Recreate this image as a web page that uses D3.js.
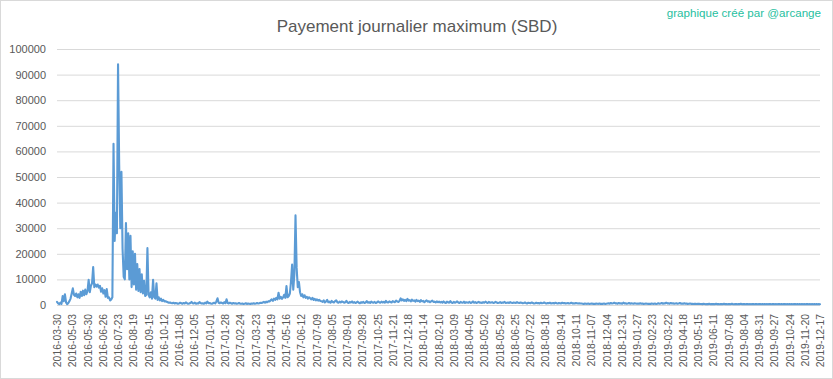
<!DOCTYPE html>
<html><head><meta charset="utf-8">
<script src="https://cdn.jsdelivr.net/npm/d3@7"></script>
<style>body{margin:0;background:#fff}svg{display:block}</style>
</head><body>
<script>
const title = "Payement journalier maximum (SBD)";
const credit = "graphique créé par @arcange";

// category labels (one every 27 categories)
const tickLabels = [
"2016-03-30","2016-05-03","2016-05-30","2016-06-26","2016-07-23","2016-08-19","2016-09-15","2016-10-12","2016-11-08","2016-12-05",
"2017-01-01","2017-01-28","2017-02-24","2017-03-23","2017-04-19","2017-05-16","2017-06-12","2017-07-09","2017-08-05","2017-09-01",
"2017-09-28","2017-10-25","2017-11-21","2017-12-18","2018-01-14","2018-02-10","2018-03-09","2018-04-05","2018-05-02","2018-05-29",
"2018-06-25","2018-07-22","2018-08-18","2018-09-14","2018-10-11","2018-11-07","2018-12-04","2018-12-31","2019-01-27","2019-02-23",
"2019-03-22","2019-04-18","2019-05-15","2019-06-11","2019-07-08","2019-08-04","2019-08-31","2019-09-27","2019-10-24","2019-11-20",
"2019-12-17"];
const labelEvery = 27;   // categories between two labels
const sampleStep = 2;    // one value read every 2 categories

const yTicks = [0,10000,20000,30000,40000,50000,60000,70000,80000,90000,100000];

// maximum daily payment (SBD), one value every 2 days
const maxPayment = [
// 2016 spring
1200,600,300,900,400,3500,1500,4200,
1000,300,800,1500,2500,4500,6500,4000,3500,
4500,3000,4200,2800,5200,3500,5600,3800,6000,4200,5500,9800,5000,7500,8500,14800,7000,8000,
7200,8000,6800,7500,5200,6500,4500,5800,3200,6200,2800,3000,1800,2200,3000,
// 2016 summer peak
63000,25000,36000,28000,94000,55000,30000,52000,22000,11000,10000,32000,14000,28000,10000,27000,7000,21000,8000,20000,
6000,16000,5500,14000,5000,12000,4500,9500,3500,4000,22200,4000,3000,5000,2500,9800,3000,2500,8500,2000,
3000,1800,2500,1500,2000,1400,1500,
// 2016 autumn - 2017 spring
1300,1100,900,1000,800,700,900,600,800,700,
500,600,900,700,500,800,600,1000,700,500,
600,800,1200,700,600,900,500,700,600,1100,
800,600,700,500,900,600,1300,700,800,600,
500,700,900,600,1400,2600,900,700,1000,800,
600,1100,700,2200,800,600,900,700,500,800,
600,700,500,600,800,500,
500,600,400,500,700,400,600,500,400,600,
500,700,500,600,800,600,700,900,800,1000,
1200,900,1300,1100,1500,1400,
// 2017 June peak
1800,2200,1600,2500,2000,2800,2200,4800,2500,3200,2400,3000,4000,2800,7400,3000,3500,4500,9000,15800,
6000,12000,35000,14500,7000,9000,5000,
3500,4200,3000,3800,2800,3200,2500,3000,2600,2200,2800,2000,2400,1800,2200,1700,2000,1600,
// 2017 summer - winter
1500,1200,1800,1000,1400,2000,1100,1300,900,1600,
1200,1000,1500,1800,1100,900,1300,1000,1400,1200,
900,1100,1600,1000,800,1200,1000,1400,900,1100,
800,1000,1300,900,700,1100,900,1200,800,1000,
1500,900,1100,800,1300,1000,900,1200,800,1000,
1400,1100,900,1300,1000,1200,900,1600,1100,1000,
1400,1200,1000,1500,1300,1100,1700,1400,1200,1600,
2600,1800,2200,1600,2000,1500,2400,1700,1900,1400,
2100,1600,1800,1300,2000,1500,1700,1200,1900,1400,
1600,1100,1500,1800,1300,1500,1100,1400,1700,1200,
1300,1000,1400,1100,1300,1000,
// 2018
1200,900,1400,1000,800,1300,1100,900,1500,1000,
800,1200,900,1100,1400,1000,800,1200,1000,900,
1300,800,1100,1000,900,1200,800,1000,1400,900,
1100,800,1000,1200,900,1000,800,1100,900,1300,
1000,800,1200,900,1000,1100,800,900,1200,1000,
800,900,1100,800,1000,900,1200,800,900,1000,
800,1100,900,800,1000,900,800,1100,900,800,
1000,
900,700,800,1000,700,600,900,800,700,1000,
800,600,700,900,700,800,600,900,700,800,
1000,700,600,800,700,900,600,700,800,600,
900,700,600,800,700,600,900,700,800,600,
700,800,600,700,900,600,700,600,800,700,
600,700,600,
// late 2018 - 2019
600,500,400,600,500,450,550,400,500,600,
450,500,400,550,500,450,600,400,500,450,
550,400,500,600,700,500,800,600,700,900,
600,700,500,800,600,700,500,900,600,700,
500,600,800,500,700,600,500,700,600,500,
600,500,700,500,600,400,500,600,500,450,
500,400,600,500,450,550,400,500,700,500,
600,800,500,700,600,900,600,700,500,800,
600,700,500,600,700,500,600,800,500,600,
500,700,500,600,400,500,600,450,500,400,
500,450,400,500,450,400,
400,350,450,400,300,400,350,450,300,400,
350,400,300,450,350,400,300,350,400,300,
450,350,400,300,350,400,300,450,350,300,
400,350,300,400,350,450,300,350,400,300,
350,400,300,350,300,400,350,300,400,350,
300,350,400,300,350,300,400,300,350,300,
400,350,300,350,400,300,350,300,350,400,
300,350,300,400,350,300,350,300,400,300,
350,300,350,400,300,350,300,350,300,400,
300,350,300,350,400,300,350,300,350,300,
350,300,350,300,350,300
];

const W = 833, H = 379;
const plot = {left: 57, right: 820, top: 49, bottom: 305};
const font = "'Liberation Sans', Arial, sans-serif";
const textColor = "#595959";

const svg = d3.select("body").append("svg").attr("width", W).attr("height", H);
svg.append("rect").attr("x", 0.5).attr("y", 0.5).attr("width", W - 1).attr("height", H - 1)
  .attr("fill", "#fff").attr("stroke", "#d9d9d9");

const x = d3.scaleLinear().domain([0, (tickLabels.length - 1) * labelEvery]).range([plot.left, plot.right]);
const y = d3.scaleLinear().domain([0, 100000]).range([plot.bottom, plot.top]);

// gridlines + y labels
const yAxis = d3.axisLeft(y).tickValues(yTicks).tickSize(-(plot.right - plot.left)).tickPadding(11).tickFormat(d3.format("d"));
const gy = svg.append("g").attr("transform", `translate(${plot.left},0)`).call(yAxis);
gy.select(".domain").remove();
gy.selectAll(".tick line").attr("stroke", "#d9d9d9").attr("stroke-width", 1);
gy.selectAll(".tick text").attr("fill", textColor).style("font-family", font).style("font-size", "11px");

// x labels
const xAxis = d3.axisBottom(x).tickValues(tickLabels.map((d, i) => i * labelEvery)).tickSize(0)
  .tickFormat((d, i) => tickLabels[i]);
const gx = svg.append("g").attr("transform", `translate(0,${plot.bottom})`).call(xAxis);
gx.select(".domain").remove();
gx.selectAll(".tick text")
  .attr("fill", textColor).style("font-family", font).style("font-size", "10.4px")
  .attr("text-anchor", "end").attr("transform", "translate(0,9) rotate(-90)")
  .attr("x", 0).attr("y", 0).attr("dy", "0.35em");

// line
const line = d3.line().x((d, i) => x(i * sampleStep)).y(d => y(d)).curve(d3.curveLinear);
svg.append("path").datum(maxPayment).attr("d", line)
  .attr("fill", "none").attr("stroke", "#5b9bd5").attr("stroke-width", 2.1)
  .attr("stroke-linejoin", "round").attr("stroke-linecap", "round");

// title + credit
svg.append("text").attr("x", 417).attr("y", 32).attr("text-anchor", "middle")
  .attr("fill", textColor).style("font-family", font).style("font-size", "17px").text(title);
svg.append("text").attr("x", 821).attr("y", 17).attr("text-anchor", "end")
  .attr("fill", "#1fc0a0").style("font-family", font).style("font-size", "11.6px").text(credit);
</script>
</body></html>
